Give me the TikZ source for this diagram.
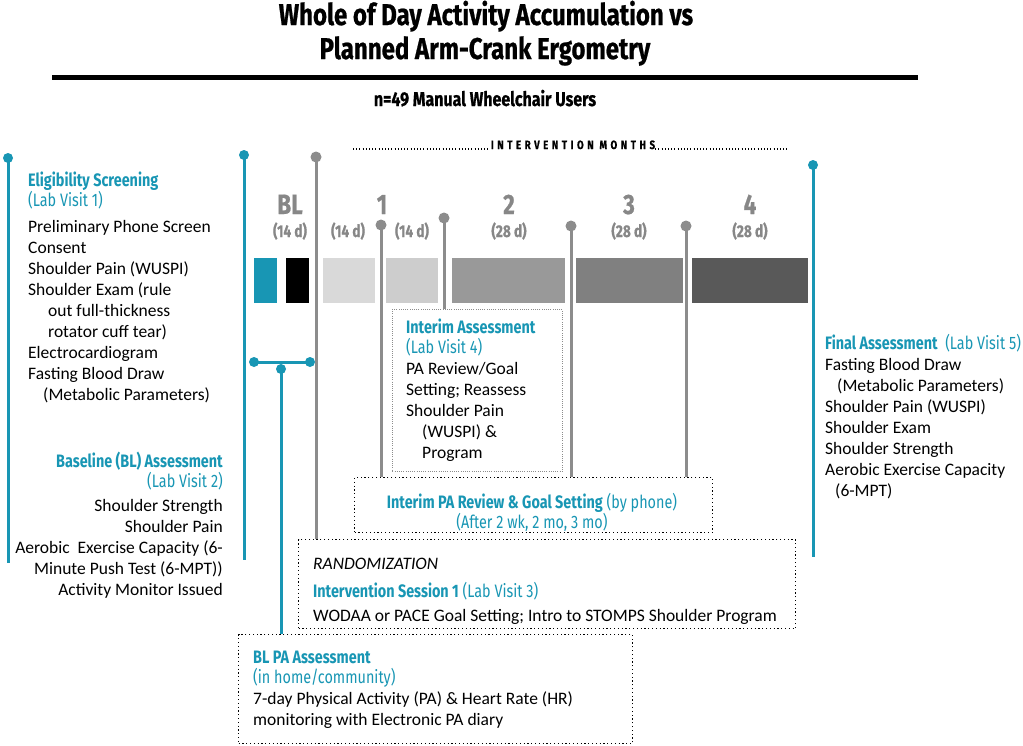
\documentclass[tikz,border=0pt]{standalone}
\usepackage{fontspec}
\setmainfont{Carlito}
\newfontfamily\cond[FakeStretch=0.8]{Fira Sans}
\newfontfamily\condheavy[FakeStretch=0.8,FakeBold=0.7]{Fira Sans}
\definecolor{tealc}{RGB}{24,150,180}
\definecolor{lgray}{RGB}{140,140,140}
\definecolor{labgray}{RGB}{135,135,135}
\definecolor{barA}{RGB}{217,217,217}
\definecolor{barB}{RGB}{205,205,205}
\definecolor{barC}{RGB}{153,153,153}
\definecolor{barD}{RGB}{128,128,128}
\definecolor{barE}{RGB}{89,89,89}
\tikzset{
  tdot/.style={circle, fill=tealc, inner sep=0, minimum size=10pt},
  gdot/.style={circle, fill=lgray, inner sep=0, minimum size=11pt},
  tline/.style={draw=tealc, line width=3pt},
  gline/.style={draw=lgray, line width=3pt},
  body/.style={inner sep=0, font=\fontsize{17.5}{21}\selectfont},
  head/.style={inner sep=0, text=tealc, font=\cond\fontsize{18}{20.5}\selectfont},
  tlab/.style={inner sep=0, text=labgray, font=\condheavy\bfseries\fontsize{28}{30}\selectfont, anchor=base},
  dlab/.style={inner sep=0, text=labgray, font=\condheavy\bfseries\fontsize{17}{19}\selectfont, anchor=base},
  dbox/.style={draw=black, line width=1.2pt, dash pattern=on 1.2pt off 2.6pt, inner sep=0, anchor=north west},
  gbox/.style={draw=lgray, line width=0.8pt, dash pattern=on 0.8pt off 1.4pt, inner sep=0, anchor=north west},
}
\begin{document}
\begin{tikzpicture}[x=1pt,y=-1pt]
\useasboundingbox[fill=white] (0,0) rectangle (1023,745);
% title
\node[anchor=base, inner sep=0, font=\condheavy\bfseries\fontsize{30}{34}\selectfont] (t1) at (486,25) {Whole of Day Activity Accumulation vs};
\node[anchor=base, inner sep=0, font=\condheavy\bfseries\fontsize{30}{34}\selectfont] (t2) at (485,59) {Planned Arm-Crank Ergometry};
\draw[line width=5pt] (52,77.5) -- (918,77.5);
\node[anchor=base, inner sep=0, font=\condheavy\bfseries\fontsize{20}{22}\selectfont] (sub) at (485,106) {n=49 Manual Wheelchair Users};
% intervention months
\node[anchor=base, inner sep=0, font=\condheavy\bfseries\fontsize{12}{14}\selectfont\addfontfeature{LetterSpace=30}] (im) at (573,149) {INTERVENTION MONTHS};
\coordinate (imL) at (353,149);
\coordinate (imR) at (788,149);
\draw[line width=1.1pt, dash pattern=on 1pt off 2.2pt] (imL) -- ([xshift=-2pt]im.base west);
\draw[line width=1.1pt, dash pattern=on 1pt off 2.2pt] ([xshift=0pt]im.base east) -- (imR);
% timeline labels
\node[tlab] (lBL) at (290,214) {BL};
\node[tlab] (l1) at (382,214) {1};
\node[tlab] (l2) at (509,214) {2};
\node[tlab] (l3) at (629,214) {3};
\node[tlab] (l4) at (750,214) {4};
\node[dlab] (dBL) at (290,237) {(14 d)};
\node[dlab] (d1a) at (348,237) {(14 d)};
\node[dlab] (d1b) at (412,237) {(14 d)};
\node[dlab] (d2) at (509,237) {(28 d)};
\node[dlab] (d3) at (629,237) {(28 d)};
\node[dlab] (d4) at (750,237) {(28 d)};
% bars
\fill[tealc] (254,258) rectangle (277,303);
\fill[black] (286,258) rectangle (309,303);
\fill[barA] (323,258) rectangle (375,303);
\fill[barB] (386,258) rectangle (438,303);
\fill[barC] (452,258) rectangle (565,303);
\fill[barD] (576,258) rectangle (683,303);
\fill[barE] (692,258) rectangle (808,303);
% boxes
\node[gbox, minimum width=170pt, minimum height=162pt] (ibox) at (392,309) {};
\node[dbox, minimum width=358pt, minimum height=55pt] (pbox) at (354,477) {};
\node[dbox, minimum width=497pt, minimum height=89pt] (rbox) at (298,539) {};
\node[dbox, minimum width=394pt, minimum height=109pt] (bbox) at (238,634) {};
% teal lines
\node[tdot] (td1) at (8,158) {};
\coordinate (te1) at (8,563);
\draw[tline] (td1.center) -- (te1);
\node[tdot] (td2) at (244,155) {};
\coordinate (te2) at (244,560);
\draw[tline] (td2.center) -- (te2);
\node[tdot] (tdF) at (813,165) {};
\coordinate (teF) at (813,557);
\draw[tline] (tdF.center) -- (teF);
\node[tdot] (thL) at (254,362) {};
\node[tdot] (thR) at (310,362) {};
\draw[tline] (thL.center) -- (thR.center);
\node[tdot] (thM) at (281,369) {};
\draw[tline] (thM.center) -- (thM.center |- bbox.north);
% gray lines
\node[gdot] (g0) at (316,157) {};
\draw[gline] (g0.center) -- (g0.center |- rbox.north);
\node[gdot] (g1) at (381,225) {};
\draw[gline] (g1.center) -- (g1.center |- pbox.north);
\node[gdot] (g2) at (444,218) {};
\draw[gline] (g2.center) -- (g2.center |- ibox.north);
\node[gdot] (g3) at (571,226) {};
\draw[gline] (g3.center) -- (g3.center |- pbox.north);
\node[gdot] (g4) at (686,226) {};
\draw[gline] (g4.center) -- (g4.center |- pbox.north);
% eligibility (base anchor = last line baseline)
\node[head, anchor=base west, align=left] (eh) at (28,206.5) {{\bfseries Eligibility Screening}\\(Lab Visit 1)};
\node[body, anchor=base west, align=left] (eb) at (28,400) {Preliminary Phone Screen\\Consent\\Shoulder Pain (WUSPI)\\Shoulder Exam (rule\\\hspace*{20pt}out full-thickness\\\hspace*{20pt}rotator cuff tear)\\Electrocardiogram\\Fasting Blood Draw\\\hspace*{15pt}(Metabolic Parameters)};
% baseline
\node[head, anchor=base east, align=right] (bh) at (223,487.5) {{\bfseries Baseline (BL) Assessment}\\(Lab Visit 2)};
\node[body, anchor=base east, align=right] (bb) at (223,595) {Shoulder Strength\\Shoulder Pain\\Aerobic\ \ Exercise Capacity (6-\\Minute Push Test (6-MPT))\\Activity Monitor Issued};
% interim
\node[head, anchor=base west, align=left] (ih) at (406,353.5) {{\bfseries Interim Assessment}\\(Lab Visit 4)};
\node[body, anchor=base west, align=left] (ib) at (406,458) {PA Review/Goal\\Setting; Reassess\\Shoulder Pain\\\hspace*{16pt}(WUSPI) \&\\\hspace*{16pt}Program};
% phone
\node[head, anchor=base, align=center] (ph) at (532,528.5) {{\bfseries Interim PA Review \& Goal Setting} (by phone)\\(After 2 wk, 2 mo, 3 mo)};
% randomization
\node[body, anchor=base west] (rr) at (313,569) {\itshape RANDOMIZATION};
\node[head, anchor=base west] (rh) at (313,597) {{\bfseries Intervention Session 1} (Lab Visit 3)};
\node[body, anchor=base west] (rb) at (313,621) {WODAA or PACE Goal Setting; Intro to STOMPS Shoulder Program};
% BL PA
\node[head, anchor=base west, align=left] (bph) at (253,683.5) {{\bfseries BL PA Assessment}\\(in home/community)};
\node[body, anchor=base west, align=left] (bpb) at (253,725) {7-day Physical Activity (PA) \& Heart Rate (HR)\\monitoring with Electronic PA diary};
% final
\node[head, anchor=base west] (fh) at (825,349) {{\bfseries Final Assessment}\ \ (Lab Visit 5)};
\node[body, anchor=base west, align=left] (fb) at (825,496) {Fasting Blood Draw\\\hspace*{12pt}(Metabolic Parameters)\\Shoulder Pain (WUSPI)\\Shoulder Exam\\Shoulder Strength\\Aerobic Exercise Capacity\\\hspace*{10pt}(6-MPT)};
\end{tikzpicture}
\end{document}
